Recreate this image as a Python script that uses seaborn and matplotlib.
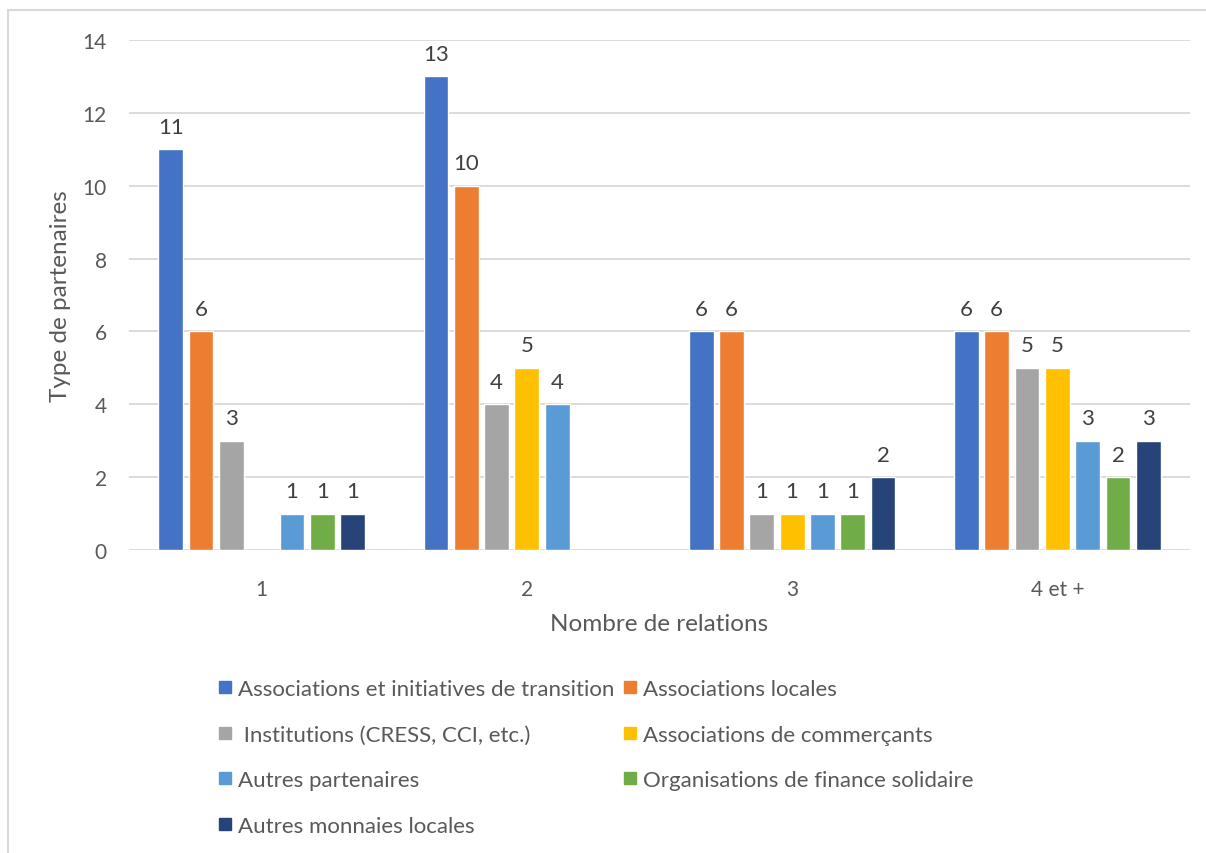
import seaborn as sns
import matplotlib.pyplot as plt
import pandas as pd
from matplotlib.lines import Line2D
from matplotlib.patches import Rectangle

# Données du graphique
relations = ["1", "2", "3", "4 et +"]
types = [
    "Associations et initiatives de transition",
    "Associations locales",
    " Institutions (CRESS, CCI, etc.)",
    "Associations de commerçants",
    "Autres partenaires",
    "Organisations de finance solidaire",
    "Autres monnaies locales",
]
transition = [11, 13, 6, 6]
locales = [6, 10, 6, 6]
institutions = [3, 4, 1, 5]
commercants = [None, 5, 1, 5]
autres_part = [1, 4, 1, 3]
finance = [1, None, 1, 2]
monnaies = [1, None, 2, 3]
couleurs = ["#4472C4", "#ED7D31", "#A5A5A5", "#FFC000", "#5B9BD5", "#70AD47", "#264478"]

valeurs = [transition, locales, institutions, commercants, autres_part, finance, monnaies]
rows = []
for t, vals in zip(types, valeurs):
    for r, v in zip(relations, vals):
        if v is not None:
            rows.append({"Nombre de relations": r, "Type": t, "Valeur": v})
df = pd.DataFrame(rows)

sns.set_style("white")
plt.rcParams["font.family"] = ["Lato", "DejaVu Sans"]
gris_texte = "#595959"

fig = plt.figure(figsize=(12.06, 8.54), dpi=100)
ax = fig.add_axes([129 / 1206, 1 - 551 / 854, (1190 - 129) / 1206, (551 - 41) / 854])

sns.barplot(data=df, x="Nombre de relations", y="Valeur", hue="Type", order=relations,
            hue_order=types, palette=couleurs, width=0.8, gap=0.18, saturation=1,
            legend=False, ax=ax)

# Étiquettes de données
for c in ax.containers:
    ax.bar_label(c, fmt="%g", padding=9, fontsize=16, color="#404040")

ax.set_ylim(0, 14)
ax.set_yticks(range(0, 15, 2))
ax.grid(axis="y", color="#D9D9D9", linewidth=1.3)
ax.set_axisbelow(True)
for s in ax.spines.values():
    s.set_visible(False)
ax.tick_params(axis="y", length=0, pad=16, labelsize=15, labelcolor=gris_texte)
ax.tick_params(axis="x", length=0, pad=21, labelsize=15, labelcolor=gris_texte)
ax.set_ylabel("Type de partenaires", fontsize=17.5, color=gris_texte, labelpad=8)
ax.set_xlabel("Nombre de relations", fontsize=17.5, color=gris_texte, labelpad=10)

# Légende (ordre ligne par ligne sur deux colonnes)
handles = [Line2D([], [], marker="s", linestyle="none", markersize=9, color=c) for c in couleurs]
ordre = [0, 2, 4, 6, 1, 3, 5]
fig.legend([handles[i] for i in ordre], [types[i] for i in ordre], ncol=2,
           loc="upper left", bbox_to_anchor=(218 / 1206, 1 - 680 / 854), frameon=False,
           fontsize=16, labelcolor=gris_texte, handlelength=0.6, handletextpad=0.3,
           columnspacing=0.4, labelspacing=1.15, borderpad=0, borderaxespad=0)

# Cadre du graphique
fig.add_artist(Rectangle((8 / 1206, -0.1), 1.2, 1 - 11 / 854 + 0.1, transform=fig.transFigure,
                         fill=False, edgecolor="#D9D9D9", linewidth=1.5))

fig.savefig("out.png", dpi=100, facecolor="white")
